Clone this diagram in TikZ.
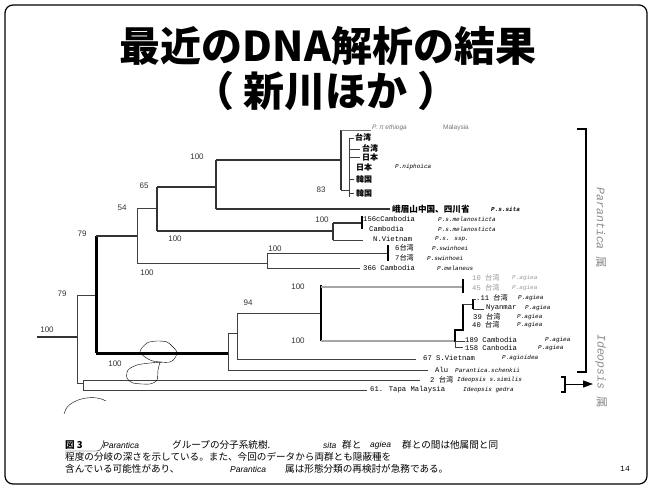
\documentclass[tikz,border=0pt]{standalone}
\usepackage{fontspec}
\setmainfont{Liberation Sans}
\newfontfamily\jp{Noto Sans CJK JP}
\newfontfamily\mono{Liberation Mono}
\usetikzlibrary{arrows.meta}
\tikzset{
  thk/.style={line width=2.4pt, draw=black!80},
  blk/.style={line width=3pt, draw=black},
  thn/.style={line width=0.9pt, draw=black!75},
  gry/.style={line width=2.6pt, draw=black!35},
  lab/.style={font=\mono\fontsize{7.2}{8}\selectfont, anchor=west, inner sep=0},
  jl/.style={font=\jp\bfseries\fontsize{8}{9}\selectfont, anchor=west, inner sep=0},
  sp/.style={font=\mono\itshape\fontsize{6}{7}\selectfont, anchor=west, inner sep=0},
  supv/.style={font=\fontsize{8}{9}\selectfont, inner sep=0, text=black!80},
  captx/.style={font=\jp\fontsize{9.6}{11}\selectfont, anchor=west, inner sep=0},
  captxi/.style={font=\itshape\fontsize{8.5}{11}\selectfont, anchor=west, inner sep=0},
  ttl/.style={font=\jp\bfseries\fontsize{41}{46}\selectfont, inner sep=0},
  gen/.style={font=\mono\itshape\fontsize{11.5}{12}\selectfont, text=black!45, rotate=-90, inner sep=0},
}
\begin{document}
\begin{tikzpicture}[x=1pt,y=-1pt]
\useasboundingbox (0,0) rectangle (652,488);
\draw[line width=1.2pt, rounded corners=8pt] (5,5) rectangle (647,484);
% title
\node[ttl] (t1) at (328,46) {最近のDNA解析の結果};
\node[ttl] (t2) at (326,91) {（\hspace{10pt}新川ほか\hspace{10pt}）};
% ---------------- tree branches
\draw[thk] (37,337) -- (77,337);
\draw[thn] (77,295) -- (77,383) -- (83,383);
\draw[thn] (77,295) -- (96,295);
\draw[thn] (83,380) -- (83,390);
\draw[thn] (83,380) -- (420,380);
\draw[thn] (83,390) -- (367,390);
% 79 node
\draw[blk] (96,236) -- (96,353);
\draw[thk] (96,236) -- (137,236);
\draw[blk] (96,353) -- (228,353);
% 54 node
\draw[thn] (137,208) -- (137,263);
\draw[thn] (137,208) -- (157,208);
\draw[thn] (137,263) -- (267,263);
% 65 node
\draw[thk] (157,187) -- (157,231);
\draw[thk] (157,187) -- (216,187);
\draw[thk] (157,231) -- (333,231);
% 100 node
\draw[thk] (216,160) -- (216,209);
\draw[thk] (216,160) -- (341,160);
\draw[thk] (216,209) -- (390,209);
% niphonica clade
\draw[thk] (341,130) -- (341,190);
\draw[thn, draw=black!55] (341,130) -- (371,130);
\draw[thn] (341,190) -- (349,190);
\draw[thn] (349,138) -- (349,197);
\draw[thn] (349,138) -- (354,138);
\draw[thn] (349,149) -- (360,149);
\draw[thn] (349,157) -- (360,157);
\draw[thn] (349,179) -- (354,179);
\draw[thn] (349,193) -- (354,193);
% melanosticta
\draw[thk] (333,223) -- (333,240);
\draw[thk] (333,223) -- (362,223);
\draw[thn] (333,240) -- (363,240);
\draw[line width=1.6pt] (362,216) -- (362,229);
% swinhoei
\draw[thn] (267,253) -- (267,268);
\draw[thn] (267,253) -- (388,253);
\draw[thn] (267,268) -- (360,268);
\draw[line width=1.5pt] (388,245) -- (388,261);
% agiea group
\draw[thn] (228,333) -- (228,370);
\draw[thn] (228,333) -- (237,333);
\draw[thn] (228,370) -- (428,370);
\draw[thn] (237,313) -- (237,359);
\draw[thn] (237,313) -- (321,313);
\draw[thn] (237,359) -- (416,359);
\draw[line width=2pt] (321,285) -- (321,341);
\draw[gry] (321,287) -- (463,287);
\draw[line width=1.5pt] (463,279) -- (463,293);
\draw[gry] (321,341) -- (455,341);
\draw[line width=2.5pt] (455,329) -- (455,342);
\draw[thn] (455,342) -- (455,347) -- (463,347);
\draw[thn] (455,341) -- (465,341);
\draw[line width=1.3pt] (455,330) -- (463,330);
\draw[line width=1.3pt] (463,304) -- (463,331);
\draw[thn] (463,304) -- (473,304);
\draw[line width=1.2pt] (473,299) -- (473,309);
\draw[thn] (473,299) -- (476,299);
\draw[thn] (473,309) -- (484,309);
% scribbles
\draw[thin] plot[smooth cycle] coordinates {(140,352) (147,343) (157,341) (167,342) (173,347) (177,352) (175,358) (170,362) (160,362) (150,360)};
\draw[thin] plot[smooth] coordinates {(160,362) (158,370) (157,380) (150,384) (133,383) (127,378) (128,370) (137,365) (150,363) (162,362)};
% ---------------- support values
\node[supv] (s1) at (197,157) {100};
\node[supv] (s2) at (144,186) {65};
\node[supv] (s3) at (122,208) {54};
\node[supv] (s4) at (82,234) {79};
\node[supv] (s5) at (175,239) {100};
\node[supv] (s6) at (147,273) {100};
\node[supv] (s7) at (321,190) {83};
\node[supv] (s8) at (322,220) {100};
\node[supv] (s9) at (275,249) {100};
\node[supv] (s10) at (298,287) {100};
\node[supv] (s11) at (298,341) {100};
\node[supv] (s12) at (248,303) {94};
\node[supv] (s13) at (62,294) {79};
\node[supv] (s14) at (47,330) {100};
\node[supv] (s15) at (115,364) {100};
% ---------------- taxon labels
\node[sp, font=\itshape\fontsize{6.5}{7}\selectfont, text=black!55] (a1) at (372,128) {P. π ethioga};
\node[lab, font=\fontsize{6.5}{7}\selectfont, text=black!55] (a2) at (443,128) {Malaysia};
\node[jl] (a3) at (355,137) {台湾};
\node[jl] (a4) at (362,148) {台湾};
\node[jl] (a5) at (362,157) {日本};
\node[jl] (a6) at (356,167) {日本};
\node[sp] (a7) at (395,167) {P.niphoica};
\node[jl] (a8) at (356,179) {韓国};
\node[jl] (a9) at (356,193) {韓国};
\node[jl, font=\jp\bfseries\fontsize{8.6}{9}\selectfont] (b1) at (392,209) {峨眉山中国、四川省};
\node[sp, font=\mono\bfseries\itshape\fontsize{6}{7}\selectfont] (b2) at (491,209) {P.s.sita};
\node[lab] (b3) at (363,219) {156cCambodia};
\node[sp] (b4) at (438,219) {P.s.melanosticta};
\node[lab] (b5) at (369,229) {Cambodia};
\node[sp] (b6) at (438,229) {P.s.melanosticta};
\node[lab] (b7) at (373,239) {N.Vietnam};
\node[sp] (b8) at (435,239) {P.s. ssp.};
\node[lab] (b9) at (395,248) {6{\jp 台湾}};
\node[sp] (b10) at (432,248) {P.swinhoei};
\node[lab] (b11) at (395,258) {7{\jp 台湾}};
\node[sp] (b12) at (427,258) {P.swinhoei};
\node[lab] (b13) at (363,268) {366 Cambodia};
\node[sp] (b14) at (437,268) {P.melaneus};
\node[lab, text=black!40] (c1) at (472,278) {10 {\jp 台湾}};
\node[sp, text=black!40] (c2) at (512,278) {P.agiea};
\node[lab, text=black!40] (c3) at (472,288) {45 {\jp 台湾}};
\node[sp, text=black!40] (c4) at (512,288) {P.agiea};
\node[lab] (c5) at (476,298) {.11 {\jp 台湾}};
\node[sp] (c6) at (518,298) {P.agiea};
\node[lab] (c7) at (486,308) {Nyanmar};
\node[sp] (c8) at (525,308) {P.agiea};
\node[lab] (c9) at (473,317) {39 {\jp 台湾}};
\node[sp] (c10) at (517,317) {P.agiea};
\node[lab] (c11) at (472,325) {40 {\jp 台湾}};
\node[sp] (c12) at (517,325) {P.agiea};
\node[lab] (c13) at (465,340) {189 Cambodia};
\node[sp] (c14) at (545,340) {P.agiea};
\node[lab] (c15) at (465,348) {158 Canbodia};
\node[sp] (c16) at (538,348) {P.agiea};
\node[lab] (d1) at (423,358) {67 S.Vietnam};
\node[sp] (d2) at (502,358) {P.agioidea};
\node[lab] (d3) at (435,370) {Alu};
\node[sp] (d4) at (455,370) {Parantica.schenkii};
\node[lab] (d5) at (430,380) {2 {\jp 台湾}};
\node[sp] (d6) at (457,380) {Ideopsis s.similis};
\node[lab] (d7) at (370,390) {61. Tapa Malaysia};
\node[sp] (d8) at (463,390) {Ideopsis gedra};
% ---------------- brackets
\draw[line width=1.4pt] (577,129) -- (586,129) -- (586,372) -- (577,372);
\node[gen] (g1) at (601,228) {Parantica {\jp\upshape 属}};
\node[gen] (g2) at (601,371) {Ideopsis {\jp\upshape 属}};
\draw[line width=1.2pt] (561,377) -- (565,377) -- (565,392) -- (561,392);
\coordinate (ar0) at (565,384);
\coordinate (ar1) at (593,384);
\draw[line width=1pt, -{Triangle[length=10pt,width=7pt]}] (ar0) -- (ar1);
% ---------------- caption
\draw[thin] (64,414) .. controls (66,400) and (92,393) .. (106,401);
\draw[thin] (65,451) -- (97,451) .. controls (101,451) and (103,446) .. (104,440);
\node[captx, font=\jp\bfseries\fontsize{9.6}{11}\selectfont] (k1) at (65,445) {図 3};
\node[captxi] (k2) at (103,445) {Parantica};
\node[captx] (k3) at (172,445) {グループの分子系統樹.};
\node[captxi] (k4) at (323,445) {sita};
\node[captx] (k5) at (342,445) {群と};
\node[captxi] (k6) at (370,445) {agiea};
\node[captx] (k7) at (402,445) {群との間は他属間と同};
\node[captx] (k8) at (65,457) {程度の分岐の深さを示している。また、今回のデータから両群とも隠蔽種を};
\node[captx] (k9) at (65,469) {含んでいる可能性があり、};
\node[captxi] (k10) at (230,469) {Parantica};
\node[captx] (k11) at (285,469) {属は形態分類の再検討が急務である。};
\node[font=\mono\fontsize{8}{9}\selectfont, anchor=west, inner sep=0] (k12) at (620,469) {14};
\end{tikzpicture}
\end{document}
